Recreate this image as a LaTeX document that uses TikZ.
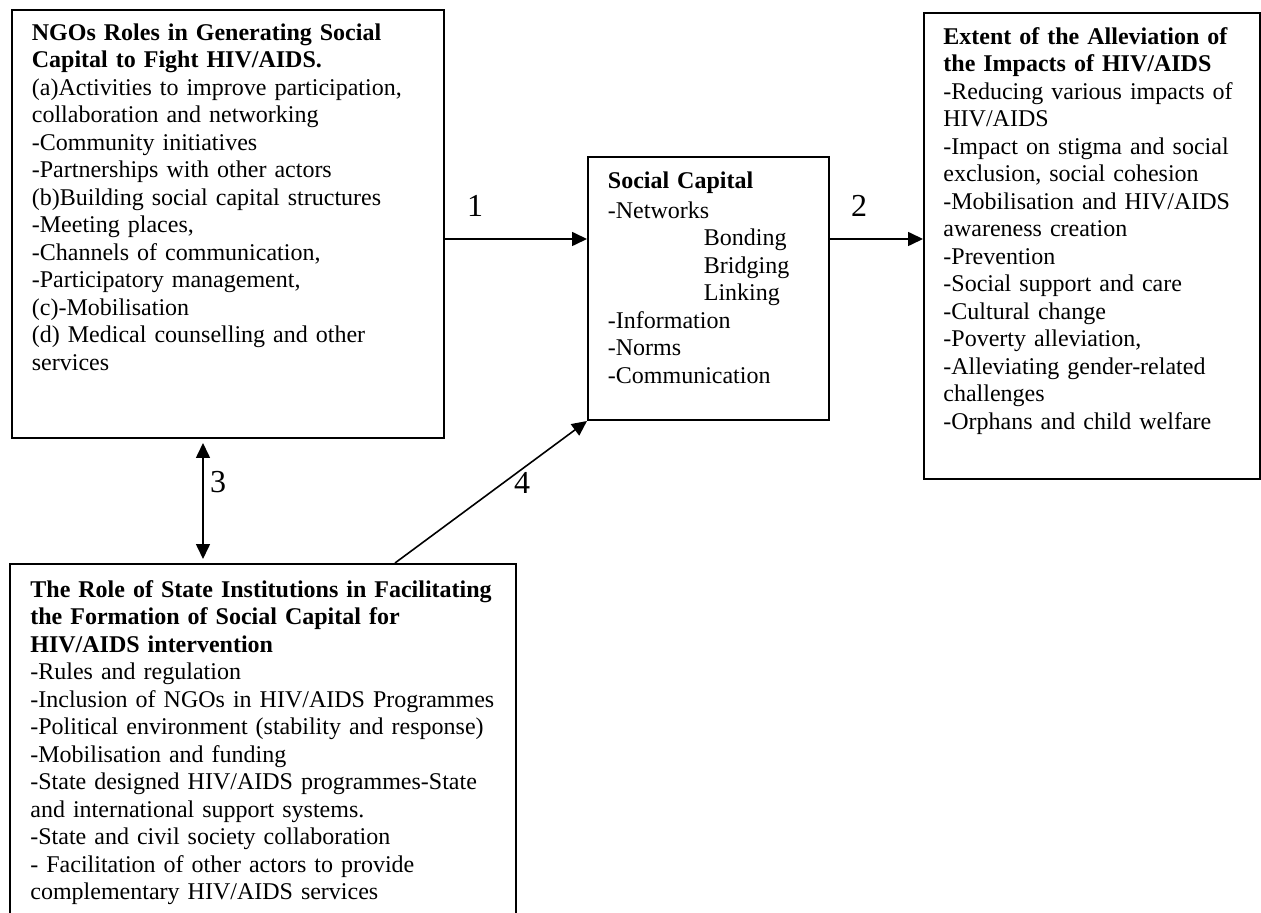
\documentclass[tikz,border=0pt]{standalone}
\usepackage{fontspec}
\setmainfont{Liberation Serif}
\usetikzlibrary{arrows.meta}
\begin{document}
\begin{tikzpicture}[x=0.5pt,y=-0.5pt,
  box/.style={draw, line width=1pt, rectangle, anchor=north west, inner sep=0pt},
  txt/.style={anchor=base west, inner sep=0pt, text width=240pt, align=left, font=\fontsize{12}{13.75}\selectfont},
  lbl/.style={font=\fontsize{16}{19}\selectfont, inner sep=0pt},
  tip/.style={Triangle[length=7.5pt,width=7pt]},
  arr/.style={line width=0.8pt, -{Triangle[length=7.5pt,width=7pt]}},
  darr/.style={line width=0.8pt, {Triangle[length=7.5pt,width=7pt]}-{Triangle[length=7.5pt,width=7pt]}, shorten <=2pt, shorten >=2pt}]
\useasboundingbox (0,0) rectangle (1261,913);
\clip (0,0) rectangle (1261,913);
\fill[white] (0,0) rectangle (1261,913);

% boxes
\node[box, minimum width=216pt, minimum height=214pt] (ngo) at (11,9) {};
\node[box, minimum width=120.5pt, minimum height=131.5pt] (sc) at (587,156) {};
\node[box, minimum width=168pt, minimum height=233pt] (ext) at (923,12) {};
\node[box, minimum width=253pt, minimum height=200pt] (state) at (9,563) {};

% texts
\node[txt] (ngotxt) at (31.5,40.5) {\textbf{NGOs Roles in Generating Social}\\
\textbf{Capital to Fight HIV/AIDS.}\\
(a)Activities to improve participation,\\
collaboration and networking\\
-Community initiatives\\
-Partnerships with other actors\\
(b)Building social capital structures\\
-Meeting places,\\
-Channels of communication,\\
-Participatory management,\\
(c)-Mobilisation\\
(d) Medical counselling and other\\
services};

\node[txt] (sctxt) at (607.5,189) {\textbf{Social Capital}\\[1pt]
-Networks\\
\hspace*{48pt}Bonding\\
\hspace*{48pt}Bridging\\
\hspace*{48pt}Linking\\
-Information\\
-Norms\\
-Communication};

\node[txt] (exttxt) at (943,44.5) {\makebox[147.5pt][s]{\textbf{Extent of the Alleviation of}}\\
\textbf{the Impacts of HIV/AIDS}\\
-Reducing various impacts of\\
HIV/AIDS\\
-Impact on stigma and social\\
exclusion, social cohesion\\
-Mobilisation and HIV/AIDS\\
awareness creation\\
-Prevention\\
-Social support and care\\
-Cultural change\\
-Poverty alleviation,\\
-Alleviating gender-related\\
challenges\\
-Orphans and child welfare};

\node[txt] (statetxt) at (30,597) {\textbf{The Role of State Institutions in Facilitating}\\
\textbf{the Formation of Social Capital for}\\
\textbf{HIV/AIDS intervention}\\
-Rules and regulation\\
-Inclusion of NGOs in HIV/AIDS Programmes\\
-Political environment (stability and response)\\
-Mobilisation and funding\\
-State designed HIV/AIDS programmes-State\\
and international support systems.\\
-State and civil society collaboration\\
- Facilitation of other actors to provide\\
complementary HIV/AIDS services};

% connector helpers
\coordinate (a1) at (0,239);
\coordinate (a3) at (203,0);
\coordinate (a4) at (395,0);

\draw[arr] (ngo.east |- a1) -- (sc.west |- a1);
\draw[arr] (sc.east |- a1) -- (ext.west |- a1);
\draw[darr] (ngo.south -| a3) -- (state.north -| a3);
\draw[arr] (state.north -| a4) -- (sc.south west);

% labels
\node[lbl] (l1) at (475,206) {1};
\node[lbl] (l2) at (859,206) {2};
\node[lbl] (l3) at (218,482) {3};
\node[lbl] (l4) at (522,483) {4};
\end{tikzpicture}
\end{document}
